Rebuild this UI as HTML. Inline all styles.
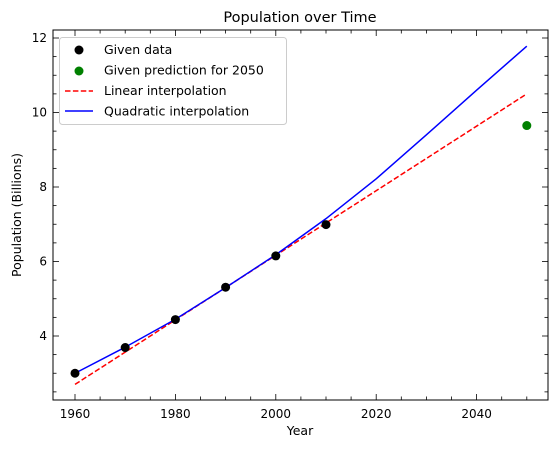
<!DOCTYPE html>
<html><head><meta charset="utf-8"><style>
body{margin:0;background:#fff;}
svg text{font-family:"DejaVu Sans","Liberation Sans",sans-serif;fill:#000;}
</style></head><body>
<svg id="chart" width="558" height="448" xmlns="http://www.w3.org/2000/svg"></svg>
<script>
const years=[1960,1970,1980,1990,2000,2010];
const population=[3.0,3.69,4.44,5.31,6.15,6.99];
const predYear=[2050];
const predValue=[9.65];
const linearYears=[1960,2050];
const linearValues=[2.7,10.5];
const quadYears=[1960,1970,1980,1990,2000,2010,2020,2030,2040,2050];
const quadValues=[3.0,3.7,4.45,5.3,6.18,7.15,8.22,9.4,10.6,11.78];
const xTicks=[1960,1980,2000,2020,2040];
const yTicks=[4,6,8,10,12];

const L=53,R=548,T=30,B=400;
const X=v=>75+(v-1960)*5.02;
const Y=v=>336-(v-4)*37.25;
const svg=document.getElementById('chart');
const NS='http://www.w3.org/2000/svg';
function mk(tag,attrs,parent){const e=document.createElementNS(NS,tag);for(const k in attrs)e.setAttribute(k,attrs[k]);(parent||svg).appendChild(e);return e;}

for(let yr=1955;yr<=2055;yr+=5){const x=X(yr);if(x<L||x>R)continue;const major=xTicks.includes(yr);const len=major?6:3.5;
mk('line',{x1:x,x2:x,y1:B,y2:B-len,stroke:'#000','stroke-width':0.8});mk('line',{x1:x,x2:x,y1:T,y2:T+len,stroke:'#000','stroke-width':0.8});}
for(let v=2.5;v<=12.01;v+=0.5){const y=Y(v);if(y<T||y>B)continue;const major=yTicks.includes(v);const len=major?6:3.5;
mk('line',{x1:L,x2:L+len,y1:y,y2:y,stroke:'#000','stroke-width':0.8});mk('line',{x1:R,x2:R-len,y1:y,y2:y,stroke:'#000','stroke-width':0.8});}
xTicks.forEach(t=>{const e=mk('text',{x:X(t),y:B+18,'text-anchor':'middle','font-size':12});e.textContent=t;

});
yTicks.forEach(t=>{const e=mk('text',{x:L-6,y:Y(t)+4,'text-anchor':'end','font-size':12});e.textContent=t;

});

const lin=mk('polyline',{points:linearYears.map((y,i)=>X(y)+','+Y(linearValues[i])).join(' '),fill:'none',stroke:'#ff0000','stroke-width':1.5,'stroke-dasharray':'5.5,2.4'});


const quad=mk('polyline',{points:quadYears.map((y,i)=>X(y)+','+Y(quadValues[i])).join(' '),fill:'none',stroke:'#0000ff','stroke-width':1.5});


years.forEach((y,i)=>{const c=mk('circle',{cx:X(y),cy:Y(population[i]),r:4.5,fill:'#000'});

});
predYear.forEach((y,i)=>{const c=mk('circle',{cx:X(y),cy:Y(predValue[i]),r:4.5,fill:'#008000'});

});

const box=mk('rect',{x:L,y:T,width:R-L,height:B-T,fill:'none',stroke:'#000','stroke-width':1});



const lg=mk('g',{});


mk('rect',{x:59.5,y:37.5,width:227,height:87,rx:3,fill:'#fff',stroke:'#ccc','stroke-width':1},lg);
mk('circle',{cx:79,cy:50,r:4.5,fill:'#000'},lg);
mk('circle',{cx:79,cy:71,r:4.5,fill:'#008000'},lg);
mk('line',{x1:65,x2:93,y1:91,y2:91,stroke:'#ff0000','stroke-width':1.5,'stroke-dasharray':'5.5,2.4'},lg);
mk('line',{x1:65,x2:93,y1:111,y2:111,stroke:'#0000ff','stroke-width':1.5},lg);
['Given data','Given prediction for 2050','Linear interpolation','Quadratic interpolation'].forEach((s,i)=>{const e=mk('text',{x:104,y:54+i*20.5,'font-size':12.5},lg);e.textContent=s;

});

const t=mk('text',{x:300,y:22,'text-anchor':'middle','font-size':14.5});t.textContent='Population over Time';


const xl=mk('text',{x:300,y:435,'text-anchor':'middle','font-size':12.5});xl.textContent='Year';


const yl=mk('text',{x:0,y:0,'text-anchor':'middle','font-size':12.5,transform:'translate(21,215) rotate(-90)'});yl.textContent='Population (Billions)';


</script>
</body></html>
